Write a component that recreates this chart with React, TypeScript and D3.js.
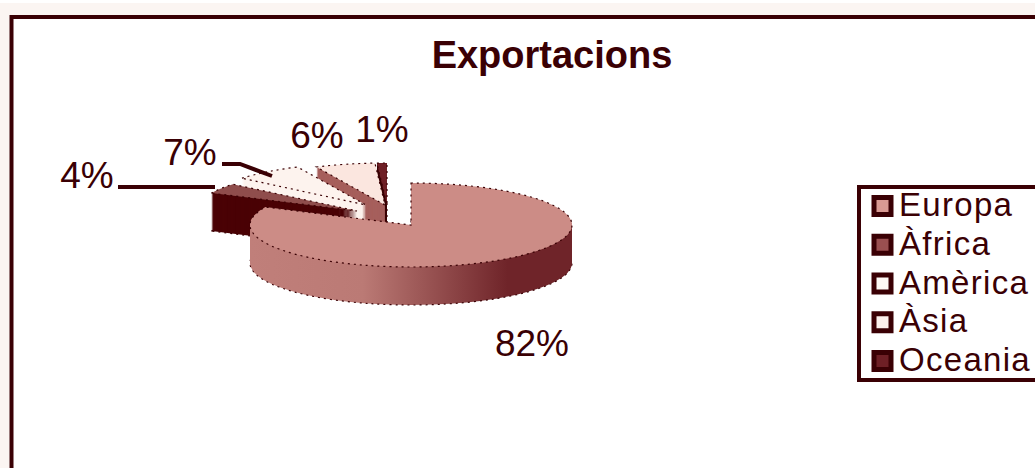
import React from "react";
import * as d3 from "d3";

const categories = ["Europa", "Àfrica", "Amèrica", "Àsia", "Oceania"];
const values = [82, 4, 7, 6, 1];
const labels = ["82%", "4%", "7%", "6%", "1%"];
const topColors = ["#cc8c86", "#8f4d4c", "#fdf3ee", "#fbe6df", "#6e1f25"];
const wallColors = ["url(#w)", "#4a0205", "#fdf3ee", "#a65f5c", "#3a0004"];
const legendFill = ["#d99a93", "#9a4f50", "#fdf8f4", "#fcf0ec", "#6e1f25"];
const offsetX = [0, -54, -45, -26, -24];
const offsetY = [0, -14, -20, -20, -20];
const labelX = [532, 87, 190, 317, 382];
const labelY = [356, 188, 165, 148, 142];
const drawOrder = [4, 3, 2, 1, 0];
const ink = "#3a0004";
const font = "'Liberation Sans', Arial, sans-serif";

const cx = 411, cy = 225, rx = 161, ry = 42, depth = 38;

export default function App() {
  const slices = d3.pie<number>().sort(null)(values);
  const arc = d3.arc<any>().innerRadius(0).outerRadius(rx);
  const k = ry / rx;
  const layer = (i: number, dy: number, fill: string, outlined = false) => (
    <path key={`${i}-${dy}`} d={arc(slices[i]) as string} fill={fill}
      stroke={outlined ? ink : "none"} strokeWidth={1.2} strokeDasharray="2 4" vectorEffect="non-scaling-stroke"
      transform={`translate(${cx + offsetX[i]},${cy + offsetY[i] + dy}) scale(1,${k})`} />
  );
  const rowY = d3.scalePoint<string>().domain(categories).range([206, 361]);
  return (
    <svg width={1035} height={468} style={{ position: "fixed", left: 0, top: 0, background: "#fbf5f2" }}>
      <defs>
        <linearGradient id="w" gradientUnits="userSpaceOnUse" x1={-rx} x2={rx} y1={0} y2={0}>
          <stop offset="0" stopColor="#c07f7a" />
          <stop offset="0.35" stopColor="#bb7a75" />
          <stop offset="0.8" stopColor="#6f2429" />
          <stop offset="1" stopColor="#6f2429" />
        </linearGradient>
      </defs>
      <rect x={0} y={0} width={1035} height={3} fill="#ffffff" />
      <rect x={11.5} y={17} width={1040} height={470} fill="#ffffff" stroke={ink} strokeWidth={4} />
      <text x={552} y={68} textAnchor="middle" fontFamily={font} fontWeight="bold" fontSize={38} fill={ink}>Exportacions</text>
      {drawOrder.map((i) => (
        <g key={i}>
          {d3.range(depth, 0, -1).map((dy) => layer(i, dy, wallColors[i], dy === depth))}
          {layer(i, 0, topColors[i], true)}
        </g>
      ))}
      <polyline points="118,187 215,187" fill="none" stroke={ink} strokeWidth={4} />
      <polyline points="222,164 240,164 272,176" fill="none" stroke={ink} strokeWidth={4} />
      {labels.map((t, i) => (
        <text key={t} x={labelX[i]} y={labelY[i]} textAnchor="middle" fontFamily={font} fontSize={37} fill={ink}>{t}</text>
      ))}
      <rect x={859} y={187} width={190} height={193} fill="#ffffff" stroke={ink} strokeWidth={4} />
      {categories.map((c, i) => (
        <g key={c}>
          <rect x={874} y={(rowY(c) as number) - 8.5} width={17} height={17} fill={legendFill[i]} stroke={ink} strokeWidth={5} />
          <text x={899} y={(rowY(c) as number) + 10} fontFamily={font} fontSize={33} letterSpacing={1.3} fill={ink}>{c}</text>
        </g>
      ))}
    </svg>
  );
}
